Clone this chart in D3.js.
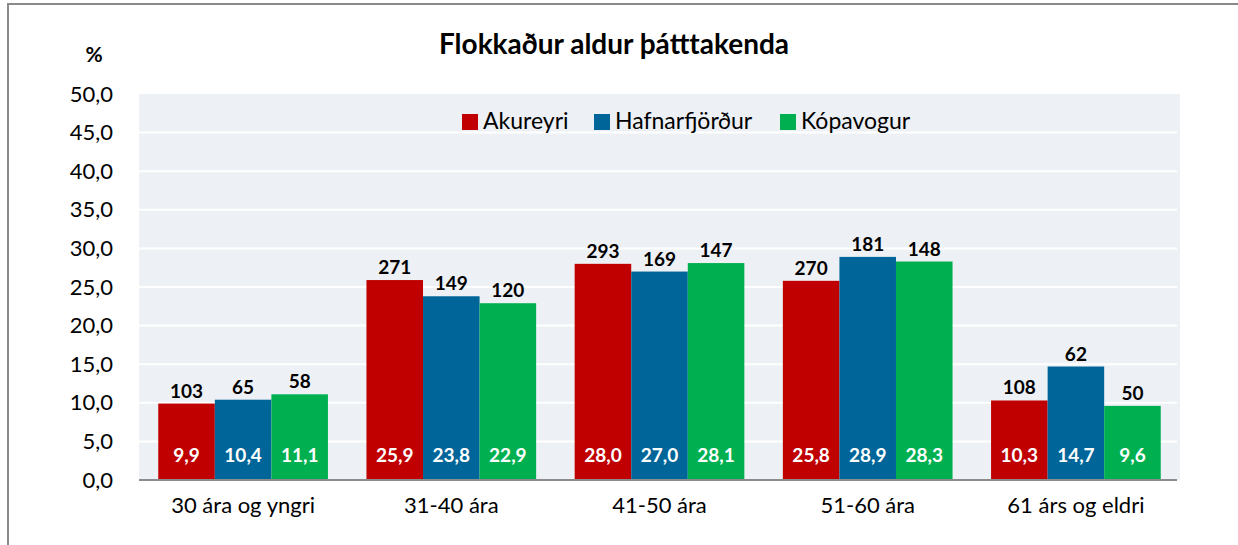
<!DOCTYPE html>
<html>
<head>
<meta charset="utf-8">
<title>Flokkaður aldur þátttakenda</title>
<script src="https://cdn.jsdelivr.net/npm/d3@7"></script>
<style>
  body { margin: 0; background: #fff; }
  svg { display: block; font-family: Lato, "Open Sans", sans-serif; }
</style>
</head>
<body>
<script>
  // data
  var categories = ["30 ára og yngri", "31-40 ára", "41-50 ára", "51-60 ára", "61 árs og eldri"];
  var seriesNames = ["Akureyri", "Hafnarfjörður", "Kópavogur"];
  var akureyriPct = [9.9, 25.9, 28.0, 25.8, 10.3];
  var hafnarPct = [10.4, 23.8, 27.0, 28.9, 14.7];
  var kopavogurPct = [11.1, 22.9, 28.1, 28.3, 9.6];
  var akureyriN = [103, 271, 293, 270, 108];
  var hafnarN = [65, 149, 169, 181, 62];
  var kopavogurN = [58, 120, 147, 148, 50];
  var yTicks = [0, 5, 10, 15, 20, 25, 30, 35, 40, 45, 50];

  var pcts = [akureyriPct, hafnarPct, kopavogurPct];
  var counts = [akureyriN, hafnarN, kopavogurN];
  var colors = ["#C00000", "#006599", "#00B050"];

  var width = 1238, height = 545;
  var plot = {left: 139, right: 1180, top: 94, bottom: 480};

  var svg = d3.select("body").append("svg")
    .attr("width", width)
    .attr("height", height);

  // outer frame (only left and top edges are inside the window)
  svg.append("rect")
    .attr("x", 8).attr("y", 4)
    .attr("width", 1250).attr("height", 600)
    .attr("fill", "none")
    .attr("stroke", "#8a8a8a")
    .attr("stroke-width", 2);

  var x0 = d3.scaleBand().domain(categories)
    .range([plot.left, plot.right])
    .paddingInner(0.185).paddingOuter(0.0925);
  var x1 = d3.scaleBand().domain(seriesNames).range([0, x0.bandwidth()]);
  var y = d3.scaleLinear().domain([0, 50]).range([plot.bottom, plot.top]);
  var fmt = function (v) { return d3.format(".1f")(v).replace(".", ","); };

  // plot background
  svg.append("rect")
    .attr("x", plot.left).attr("y", plot.top)
    .attr("width", plot.right - plot.left).attr("height", plot.bottom - plot.top)
    .attr("fill", "#EDF0F5");

  // gridlines
  svg.append("g")
    .selectAll("line")
    .data(yTicks.filter(function (d) { return d > 0 && d < 50; }))
    .enter().append("line")
    .attr("x1", plot.left).attr("x2", plot.right - 3)
    .attr("y1", function (d) { return y(d); })
    .attr("y2", function (d) { return y(d); })
    .attr("stroke", "#fff").attr("stroke-width", 2);

  // y axis labels
  var yAxis = svg.append("g")
    .attr("transform", "translate(" + (plot.left - 26) + ",0)")
    .call(d3.axisLeft(y).tickValues(yTicks).tickFormat(fmt).tickSize(0).tickPadding(0));
  yAxis.select(".domain").remove();
  yAxis.selectAll("text")
    .attr("font-size", 22).attr("fill", "#000")
    .attr("font-family", "Lato, 'Open Sans', sans-serif");

  // bars
  var groups = svg.append("g").selectAll("g")
    .data(categories)
    .enter().append("g")
    .attr("transform", function (d) { return "translate(" + x0(d) + ",0)"; });

  groups.each(function (cat, ci) {
    var g = d3.select(this);
    seriesNames.forEach(function (s, si) {
      var v = pcts[si][ci];
      g.append("rect")
        .attr("x", x1(s))
        .attr("y", y(v))
        .attr("width", x1.bandwidth())
        .attr("height", y(0) - y(v))
        .attr("fill", colors[si]);
      g.append("text")
        .attr("x", x1(s) + x1.bandwidth() / 2)
        .attr("y", y(v) - 6)
        .attr("text-anchor", "middle")
        .attr("font-size", 19).attr("font-weight", "bold")
        .text(counts[si][ci]);
      g.append("text")
        .attr("x", x1(s) + x1.bandwidth() / 2)
        .attr("y", y(0) - 18)
        .attr("text-anchor", "middle")
        .attr("font-size", 19).attr("font-weight", "bold")
        .attr("fill", "#fff")
        .text(fmt(v));
    });
  });

  // baseline
  svg.append("line")
    .attr("x1", plot.left).attr("x2", plot.right - 3)
    .attr("y1", y(0)).attr("y2", y(0))
    .attr("stroke", "#8c8c8c").attr("stroke-width", 2);

  // x axis labels
  var xAxis = svg.append("g")
    .attr("transform", "translate(0," + (plot.bottom + 17) + ")")
    .call(d3.axisBottom(x0).tickSize(0).tickPadding(0));
  xAxis.select(".domain").remove();
  xAxis.selectAll("text")
    .attr("font-size", 22).attr("fill", "#000")
    .attr("font-family", "Lato, 'Open Sans', sans-serif");

  // title and unit
  svg.append("text")
    .attr("x", 614).attr("y", 54)
    .attr("text-anchor", "middle")
    .attr("font-size", 28).attr("font-weight", "bold")
    .text("Flokkaður aldur þátttakenda");

  svg.append("text")
    .attr("x", 94).attr("y", 62)
    .attr("text-anchor", "middle")
    .attr("font-size", 21).attr("font-weight", "bold")
    .text("%");

  // legend
  var legendX = [462, 594, 780];
  var legend = svg.append("g").selectAll("g")
    .data(seriesNames)
    .enter().append("g")
    .attr("transform", function (d, i) { return "translate(" + legendX[i] + ",114)"; });
  legend.append("rect")
    .attr("width", 16).attr("height", 16)
    .attr("fill", function (d, i) { return colors[i]; });
  legend.append("text")
    .attr("x", 21).attr("y", 15)
    .attr("font-size", 23)
    .text(function (d) { return d; });
</script>
</body>
</html>
